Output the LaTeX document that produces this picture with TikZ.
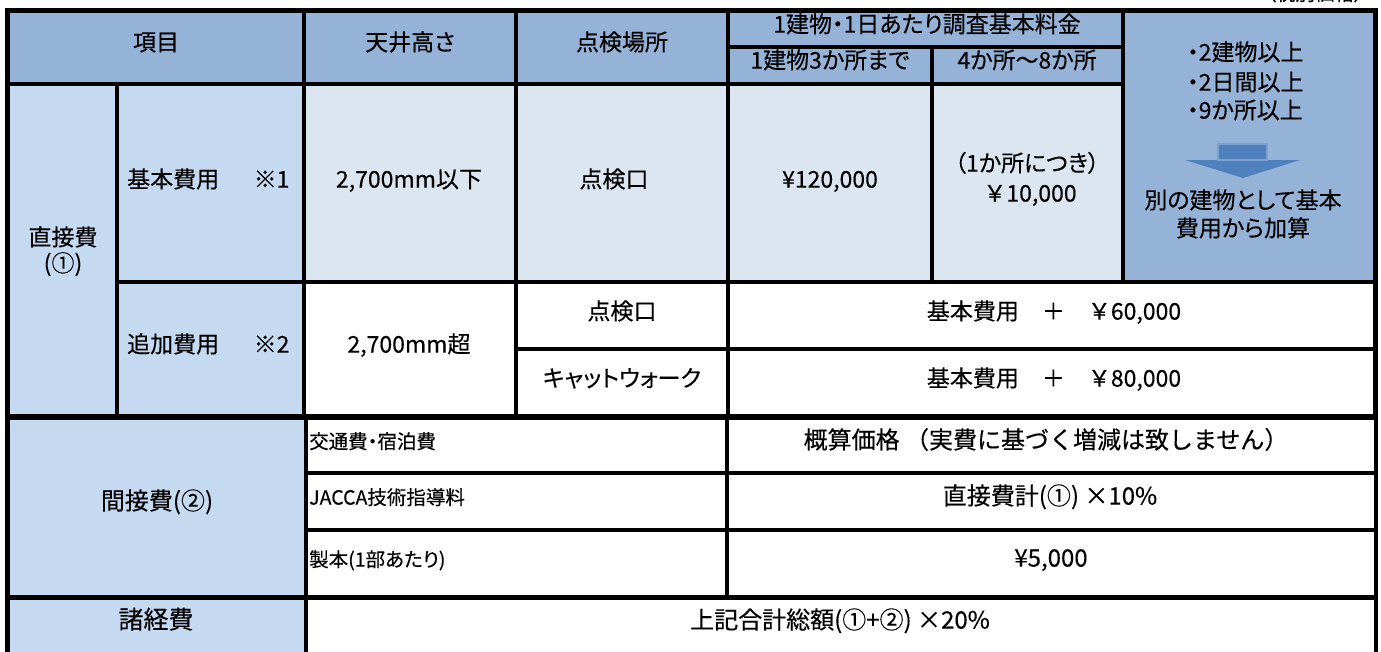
\documentclass[tikz,border=0pt]{standalone}
\usepackage{fontspec}
\setmainfont{Noto Sans CJK JP}[RawFeature={+palt}, FakeBold=0.35]
\newfontfamily\jpfull{Noto Sans CJK JP}[FakeBold=0.35]
\definecolor{hdr}{HTML}{95B3D7}
\definecolor{lb}{HTML}{C5D9F1}
\definecolor{vlb}{HTML}{DCE6F1}
\definecolor{arw}{HTML}{4F81BD}
\definecolor{arwl}{HTML}{7A9FD0}
\begin{document}
\begin{tikzpicture}[x=1pt,y=-1pt,
  tx/.style={inner sep=0pt, text height=0.86em, text depth=0.14em, font=\fontsize{23}{26}\selectfont},
  fx/.style={tx, font=\jpfull\fontsize{23}{26}\selectfont},
  vx/.style={tx, font=\jpfull\fontsize{24}{27}\selectfont},
  lx/.style={tx, font=\fontsize{19.5}{22}\selectfont},
  gl/.style={line width=3.3pt, line cap=rect},
  thk/.style={line width=5pt, line cap=rect}]
\useasboundingbox (0,0) rectangle (1381,651);
\clip (0,0) rectangle (1381,651);
% fills
\fill[hdr] (8,10) rectangle (1123,84);
\fill[hdr] (1123,10) rectangle (1375,282);
\fill[lb] (8,84) rectangle (304,416);
\fill[vlb] (304,84) rectangle (1123,282);
\fill[lb] (8,416) rectangle (306,670);
% arrow
\fill[arw] (1185,160) -- (1300,160) -- (1243,178) -- cycle;
\draw[arwl, line width=1.2pt, fill=arw] (1218,144) rectangle (1267,160);
% internal lines
\draw[gl] (8,84) -- (1123,84);
\draw[gl] (728,47) -- (1123,47);
\draw[gl] (117,84) -- (117,416);
\draw[gl] (304,10) -- (304,416);
\draw[gl] (516,10) -- (516,416);
\draw[gl] (728,10) -- (728,416);
\draw[gl] (932,47) -- (932,282);
\draw[gl] (1123,10) -- (1123,282);
\draw[gl] (117,282) -- (1375,282);
\draw[gl] (516,349) -- (1375,349);
\draw[gl] (306,416) -- (306,670);
\draw[gl] (727,416) -- (727,597);
\draw[gl] (306,473) -- (1375,473);
\draw[gl] (306,530) -- (1375,530);
% thick lines
\draw[line width=6pt] (5,416.5) -- (1378,416.5);
\draw[thk] (7.5,597.5) -- (1375,597.5);
\draw[thk] (7.5,10.5) -- (1375.5,10.5);
\draw[thk] (7.5,10.5) -- (7.5,670);
\draw[thk] (1375.5,10.5) -- (1375.5,416);
\draw[line width=4pt] (1375.5,416) -- (1375.5,670);
% corner note (cut off at top)
\node[lx, anchor=base east] (note) at (1364,0.5) {（税別価格）};
% header texts
\node[tx] (h1) at (156,47) {項目};
\node[tx] (h2) at (410,47) {天井高さ};
\node[tx] (h3) at (622,47) {点検場所};
\node[tx] (h4) at (927,29) {1建物・1日あたり調査基本料金};
\node[tx] (h5) at (830,65) {1建物3か所まで};
\node[tx] (h6) at (1027,65) {4か所～8か所};
\node[tx, anchor=west] (g1) at (1187,57) {・2建物以上};
\node[tx, anchor=west] (g2) at (1187,87) {・2日間以上};
\node[tx, anchor=west] (g3) at (1187,115) {・9か所以上};
\node[tx] (g4) at (1243,205) {別の建物として基本};
\node[tx] (g5) at (1243,233) {費用から加算};
% direct cost block
\node[tx] (a1) at (63,242) {直接費};
\node[tx] (a2) at (63,268) {(①)};
\node[tx, anchor=west] (b1) at (127,184) {基本費用\hspace{1.5em}※1};
\node[tx] (c1) at (409,184) {2,700mm以下};
\node[tx] (d1) at (614,184) {点検口};
\node[tx] (e1) at (830,184) {¥120,000};
\node[tx] (f1) at (1027,168) {（1か所につき）};
\node[fx] (f2) at (1030,198) {￥10,000};
\node[tx, anchor=west] (b2) at (127,349) {追加費用\hspace{1.5em}※2};
\node[tx] (c2) at (409,349) {2,700mm超};
\node[tx] (d2) at (622,316) {点検口};
\node[tx] (d3) at (622,383) {キャットウォーク};
\node[fx] (v2) at (1054,316) {基本費用　＋　￥60,000};
\node[fx] (v3) at (1054,383) {基本費用　＋　￥80,000};
% indirect cost block
\node[vx] (i0) at (157,506) {間接費(②)};
\node[lx, anchor=west] (i1) at (309,445) {交通費・宿泊費};
\node[lx, anchor=west] (i2) at (309,501) {JACCA技術指導料};
\node[lx, anchor=west] (i3) at (309,563) {製本(1部あたり)};
\node[vx] (j1) at (1046,445) {概算価格 （実費に基づく増減は致しません）};
\node[vx] (j2) at (1050,501) {直接費計(①) ×10\%};
\node[vx] (j3) at (1051,563) {¥5,000};
\node[vx, font=\jpfull\fontsize{25}{28}\selectfont] (k0) at (156,625) {諸経費};
\node[vx] (k1) at (840,625) {上記合計総額(①+②) ×20\%};
\end{tikzpicture}
\end{document}
